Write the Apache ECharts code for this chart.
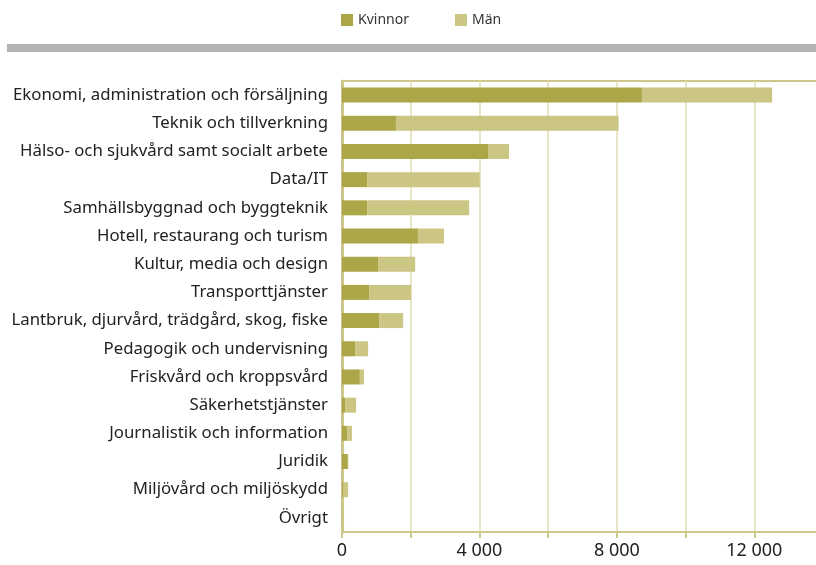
<!DOCTYPE html>
<html>
<head>
<meta charset="utf-8">
<script src="https://cdn.jsdelivr.net/npm/echarts@6/dist/echarts.min.js"></script>
<style>
  html, body { margin: 0; padding: 0; background: #fff; overflow: hidden; }
  #chart { width: 830px; height: 565px; }
</style>
</head>
<body>
<div id="chart"></div>
<script>
const categories = [
  'Ekonomi, administration och försäljning',
  'Teknik och tillverkning',
  'Hälso- och sjukvård samt socialt arbete',
  'Data/IT',
  'Samhällsbyggnad och byggteknik',
  'Hotell, restaurang och turism',
  'Kultur, media och design',
  'Transporttjänster',
  'Lantbruk, djurvård, trädgård, skog, fiske',
  'Pedagogik och undervisning',
  'Friskvård och kroppsvård',
  'Säkerhetstjänster',
  'Journalistik och information',
  'Juridik',
  'Miljövård och miljöskydd',
  'Övrigt'
]
const kvinnor = [8730, 1570, 4250, 730, 730, 2210, 1050, 790, 1080, 380, 520, 90, 150, 170, 30, 10]
const man = [3790, 6480, 610, 3280, 2970, 760, 1080, 1220, 700, 380, 120, 320, 140, 15, 150, 50]

const axisColor = '#cdc78c'
const gridColor = '#e0dcb4'

// canvas is a bit wider than the window so the axis runs off the right edge
let chart = echarts.init(document.getElementById('chart'))
let option = {
  animation: false,
  textStyle: { fontFamily: 'Noto Sans' },
  legend: {
    top: 8,
    left: 336,
    itemWidth: 12,
    itemHeight: 12,
    itemGap: 46,
    icon: 'rect',
    textStyle: { fontSize: 14, color: '#333', fontFamily: 'Noto Sans' },
    data: ['Kvinnor', 'Män']
  },
  graphic: [
    {
      type: 'rect',
      shape: { x: 7, y: 44, width: 809, height: 8 },
      style: { fill: '#b3b3b5' }
    }
  ],
  grid: {
    left: 342,
    right: 7,
    top: 81,
    bottom: 33,
    show: true,
    borderColor: axisColor,
    borderWidth: 2
  },
  xAxis: {
    type: 'value',
    min: 0,
    max: 14000,
    interval: 2000,
    axisLine: { show: true, lineStyle: { color: axisColor, width: 2 } },
    axisTick: { show: true, length: 6, lineStyle: { color: axisColor, width: 2 } },
    splitLine: { show: true, lineStyle: { color: gridColor, width: 1.5 } },
    axisLabel: {
      fontSize: 18,
      color: '#222',
      margin: 10,
      formatter: function (v) {
        if (v % 4000 !== 0 || v > 12000) return ''
        return v === 0 ? '0' : String(v / 1000) + ' 000'
      }
    }
  },
  yAxis: {
    type: 'category',
    data: categories,
    inverse: true,
    axisLine: { show: true, lineStyle: { color: axisColor, width: 3 } },
    axisTick: { show: false },
    axisLabel: { fontSize: 16.8, color: '#222', margin: 14, padding: [3, 0, 0, 0] }
  },
  series: [
    {
      name: 'Kvinnor',
      type: 'bar',
      stack: 'total',
      barWidth: 15,
      data: kvinnor,
      itemStyle: { color: '#aba647' }
    },
    {
      name: 'Män',
      type: 'bar',
      stack: 'total',
      barWidth: 15,
      data: man,
      itemStyle: { color: '#cbc684' }
    }
  ]
}
chart.setOption(option)
</script>
</body>
</html>
